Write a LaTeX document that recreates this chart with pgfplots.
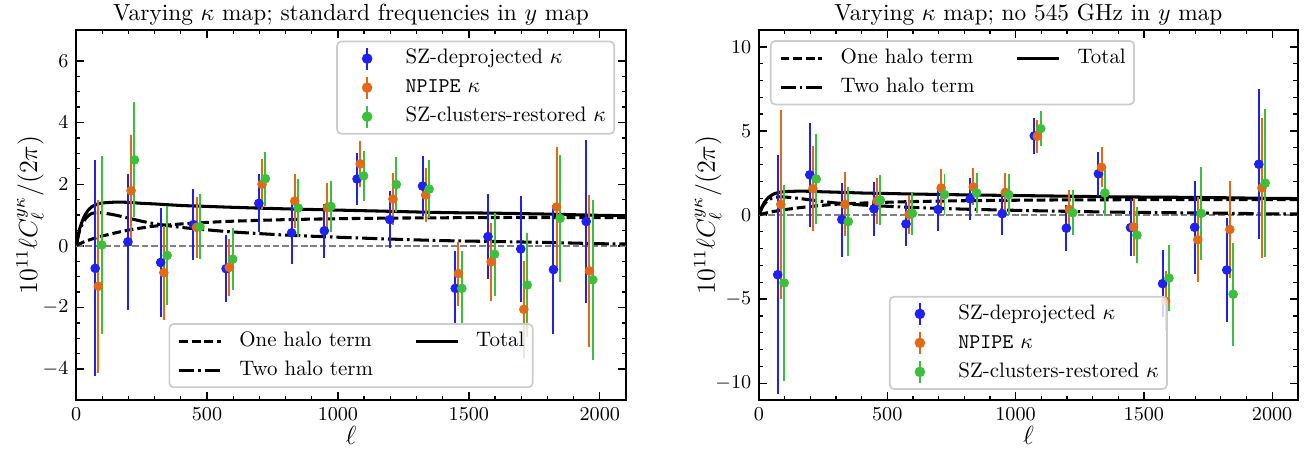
\documentclass[border=0pt]{standalone}
\usepackage{pgfplots}
\usepackage{pgfplotstable}
\pgfplotsset{compat=1.18}

\definecolor{cblue}{RGB}{32,32,240}
\definecolor{corange}{RGB}{226,106,22}
\definecolor{cgreen}{RGB}{60,192,60}

% Halo-model curves: one halo, two halo and their sum
\pgfplotstableread{
l    one   two   tot
2    0.01  0.02  0.03
5    0.03  0.18  0.21
10   0.05  0.38  0.43
15   0.07  0.52  0.59
20   0.09  0.63  0.72
30   0.13  0.80  0.93
40   0.16  0.92  1.08
50   0.19  1.00  1.19
60   0.22  1.05  1.27
80   0.27  1.08  1.35
100  0.32  1.07  1.39
130  0.38  1.03  1.41
160  0.44  0.98  1.42
200  0.51  0.90  1.41
250  0.58  0.80  1.38
300  0.64  0.72  1.36
400  0.71  0.60  1.31
500  0.76  0.52  1.28
600  0.80  0.45  1.25
800  0.85  0.35  1.20
1000 0.88  0.28  1.16
1200 0.90  0.22  1.12
1400 0.91  0.17  1.08
1600 0.92  0.14  1.06
1800 0.92  0.11  1.03
2000 0.92  0.07  0.99
2100 0.92  0.06  0.98
}\halo

% Standard frequencies in the y map
\pgfplotstableread{
l v e
73 -0.73 3.5
198 0.13 2.2
323 -0.54 1.77
448 0.69 1.16
573 -0.74 1.08
698 1.38 0.94
823 0.42 1.0
948 0.49 0.87
1073 2.17 0.83
1198 0.85 0.92
1323 1.94 0.96
1448 -1.38 1.2
1573 0.30 1.38
1698 -0.10 1.72
1823 -0.77 2.1
1948 0.79 2.65
}\blueA
\pgfplotstableread{
l v e
85 -1.31 2.8
210 1.79 1.8
335 -0.87 1.53
460 0.60 1.0
585 -0.70 0.93
710 2.00 0.82
835 1.45 0.87
960 1.25 0.78
1085 2.66 0.74
1210 1.52 0.83
1335 1.65 0.88
1460 -0.90 1.04
1585 -0.52 1.27
1710 -2.06 1.57
1835 1.26 1.95
1960 -0.81 2.46
}\orangeA
\pgfplotstableread{
l v e
98 0.03 2.9
223 2.79 1.87
348 -0.31 1.6
473 0.62 1.05
598 -0.43 1.0
723 2.18 0.88
848 1.23 0.95
973 1.28 0.83
1098 2.27 0.8
1223 1.99 0.88
1348 1.84 0.95
1473 -1.38 1.2
1598 -0.27 1.35
1723 -1.27 1.7
1848 0.89 2.05
1973 -1.10 2.6
}\greenA

% No 545 GHz in the y map
\pgfplotstableread{
l v e
73 -3.55 7.1
198 2.39 3.1
323 -0.27 2.2
448 0.37 1.6
573 -0.53 1.33
698 0.33 1.27
823 0.96 1.27
948 0.08 1.25
1073 4.71 1.07
1198 -0.78 1.35
1323 2.45 1.32
1448 -0.75 1.7
1573 -4.08 2.0
1698 -0.73 2.78
1823 -3.27 3.12
1948 3.02 4.45
}\blueB
\pgfplotstableread{
l v e
85 0.63 5.6
210 1.57 2.52
335 0.63 1.9
460 0.86 1.37
585 0.04 1.15
710 1.61 1.13
835 1.67 1.1
960 1.35 1.13
1085 4.69 0.98
1210 0.33 1.18
1335 2.84 1.2
1460 -0.71 1.7
1585 -5.12 1.8
1710 -1.47 2.52
1835 -0.86 2.88
1960 1.61 4.15
}\orangeB
\pgfplotstableread{
l v e
98 -4.04 5.85
223 2.14 2.68
348 -0.39 2.05
473 0.88 1.5
598 0.10 1.26
723 1.22 1.22
848 1.31 1.2
973 1.22 1.2
1098 5.14 1.04
1223 0.14 1.33
1348 1.31 1.35
1473 -1.20 1.65
1598 -3.75 1.96
1723 0.10 2.76
1848 -4.71 3.06
1973 1.90 4.4
}\greenB

\pgfplotsset{
  onehalo/.style={black, line width=1.4pt, dash pattern=on 4pt off 1.8pt},
  twohalo/.style={black, line width=1.4pt, dash pattern=on 7pt off 1.8pt on 1.2pt off 1.8pt},
  total/.style={black, line width=1.4pt},
  legbox/.style={
    legend cell align=left,
    legend style={draw=black!20, line width=0.8pt, rounded corners=2pt,
      fill=white, fill opacity=0.8, text opacity=1,
      font=\fontsize{9.6}{11}\selectfont,
      inner xsep=3.8pt, inner ysep=3.5pt, row sep=4.5pt,
      nodes={inner sep=0pt, text height=6.8pt, text depth=2pt},
      /tikz/every odd column/.append style={column sep=7.7pt},
      /tikz/every even column/.append style={column sep=19pt}},
  },
  errimg/.style={legend image code/.code={
      \path (0pt,0pt) (19.2pt,0pt);
      \draw[#1, line width=0.9pt, opacity=1, rounded corners=0pt, overlay] (9.6pt,-5pt) -- (9.6pt,5pt);
      \fill[#1, opacity=1, overlay] (9.6pt,0pt) circle (2pt);}},
  data/.style={only marks, mark=*, mark size=2pt, color=#1, errimg=#1,
    error bars/.cd, y dir=both, y explicit, error mark=none,
    error bar style={line width=0.9pt, #1}},
  panel/.style={
    legbox, scale only axis, height=169.7pt,
    xmin=0, xmax=2100,
    xtick={0,500,1000,1500,2000}, minor x tick num=4,
    tick align=inside, tick pos=both,
    major tick length=3.6pt, minor tick length=2pt,
    every tick/.style={black, line width=0.6pt},
    axis line style={line width=0.8pt},
    tick label style={font=\fontsize{9.2}{11}\selectfont},
    /pgf/number format/1000 sep={},
    xlabel={$\ell$},
    ylabel={$10^{11}\ell C_\ell^{y\kappa}/(2\pi)$},
    every axis title/.style={at={(0.5,1)}, anchor=base, yshift=4.6pt,
      font=\fontsize{10.7}{13}\selectfont},
    every axis x label/.style={at={(0.5,0)}, anchor=base, yshift=-20.6pt,
      font=\fontsize{11.7}{14}\selectfont},
  },
  legonly/.style={
    legbox, scale only axis, height=169.7pt, hide axis, xmin=0, xmax=2100,
    legend image code/.code={\draw[##1, rounded corners=0pt] (0pt,0pt) -- (19.2pt,0pt);},
  },
}

\begin{document}
\begin{tikzpicture}
\path[use as bounding box] (-34.9pt,-25.2pt) rectangle (566.1pt,183.5pt);

% ---------- left panel ----------
\begin{axis}[panel, width=252.3pt, at={(0pt,0pt)}, anchor=south west,
  ymin=-5, ymax=7, ytick={-4,-2,0,2,4,6}, minor y tick num=3,
  title={Varying $\kappa$ map; standard frequencies in $y$ map},
  every axis y label/.style={at={(-0.071,0.5)}, rotate=90, anchor=base,
    font=\fontsize{11.7}{14}\selectfont},
  legend style={at={(1,1)}, anchor=north east, xshift=-5pt, yshift=-4.8pt}]
  \addplot[gray, line width=0.6pt, dash pattern=on 3pt off 1.3pt, forget plot] coordinates {(0,0) (2100,0)};
  \addplot[onehalo, smooth, forget plot] table[x=l, y=one] {\halo};
  \addplot[twohalo, smooth, forget plot] table[x=l, y=two] {\halo};
  \addplot[total, smooth, forget plot] table[x=l, y=tot] {\halo};
  \addplot[data=cblue] table[x=l, y=v, y error=e] {\blueA};
  \addlegendentry{SZ-deprojected $\kappa$}
  \addplot[data=corange] table[x=l, y=v, y error=e] {\orangeA};
  \addlegendentry{\texttt{NPIPE} $\kappa$}
  \addplot[data=cgreen] table[x=l, y=v, y error=e] {\greenA};
  \addlegendentry{SZ-clusters-restored $\kappa$}
\end{axis}
\begin{axis}[legonly, width=252.3pt, at={(0pt,0pt)}, anchor=south west,
  ymin=-5, ymax=7, legend columns=2,
  legend style={at={(0.5,0)}, anchor=south, yshift=5.4pt}]
  \addlegendimage{onehalo}\addlegendentry{One halo term}
  \addlegendimage{total}\addlegendentry{Total}
  \addlegendimage{twohalo}\addlegendentry{Two halo term}
\end{axis}

% ---------- right panel ----------
\begin{axis}[panel, width=247.2pt, at={(313.3pt,0pt)}, anchor=south west,
  ymin=-11, ymax=11, ytick={-10,-5,0,5,10}, minor y tick num=4,
  title={Varying $\kappa$ map; no 545 GHz in $y$ map},
  every axis y label/.style={at={(-0.082,0.5)}, rotate=90, anchor=base,
    font=\fontsize{11.7}{14}\selectfont},
  legend style={at={(0.5,0)}, anchor=south, yshift=4.6pt}]
  \addplot[gray, line width=0.6pt, dash pattern=on 3pt off 1.3pt, forget plot] coordinates {(0,0) (2100,0)};
  \addplot[onehalo, smooth, forget plot] table[x=l, y=one] {\halo};
  \addplot[twohalo, smooth, forget plot] table[x=l, y=two] {\halo};
  \addplot[total, smooth, forget plot] table[x=l, y=tot] {\halo};
  \addplot[data=cblue] table[x=l, y=v, y error=e] {\blueB};
  \addlegendentry{SZ-deprojected $\kappa$}
  \addplot[data=corange] table[x=l, y=v, y error=e] {\orangeB};
  \addlegendentry{\texttt{NPIPE} $\kappa$}
  \addplot[data=cgreen] table[x=l, y=v, y error=e] {\greenB};
  \addlegendentry{SZ-clusters-restored $\kappa$}
\end{axis}
\begin{axis}[legonly, width=247.2pt, at={(313.3pt,0pt)}, anchor=south west,
  ymin=-11, ymax=11, legend columns=2,
  legend style={at={(0,1)}, anchor=north west, xshift=5pt, yshift=-4.6pt}]
  \addlegendimage{onehalo}\addlegendentry{One halo term}
  \addlegendimage{total}\addlegendentry{Total}
  \addlegendimage{twohalo}\addlegendentry{Two halo term}
\end{axis}
\end{tikzpicture}
\end{document}
